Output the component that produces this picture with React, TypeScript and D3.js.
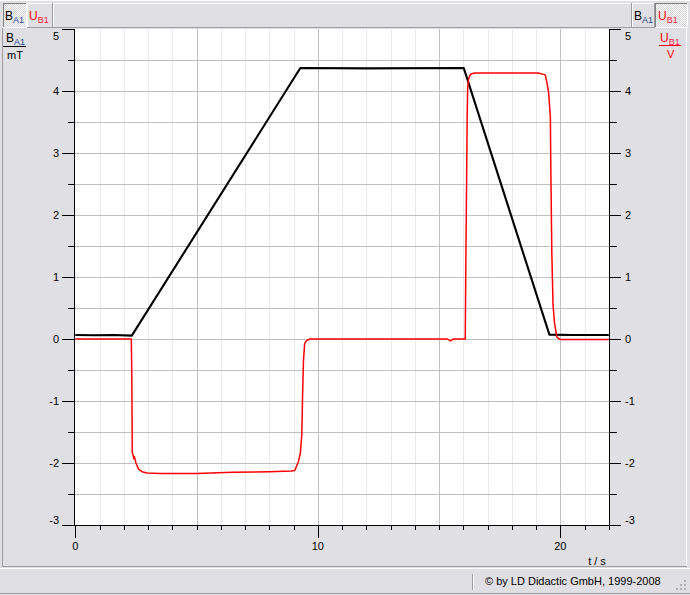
import React from 'react';
import * as d3 from 'd3';

// ---- data ----
// Magnetic flux density B_A1 (mT) vs time t (s)
const bTimes = [0, 0.8, 1.6, 2.33, 9.28, 12.0, 16.02, 19.55, 20.5, 22];
const bValues = [0.065, 0.06, 0.065, 0.055, 4.37, 4.365, 4.37, 0.07, 0.065, 0.065];

// Induced voltage U_B1 (V) vs time t (s)
const uTimes = [
  0, 2.31, 2.33, 2.35, 2.38, 2.41, 2.44, 2.5, 2.61, 2.75, 2.96, 3.5, 5.0, 6.5, 8.0, 8.9,
  9.05, 9.2, 9.28, 9.34, 9.37, 9.41, 9.46, 9.55, 9.69, 15.35, 15.46, 15.6, 16.08, 16.1,
  16.16, 16.18, 16.22, 16.3, 16.45, 19.09, 19.38, 19.45, 19.52, 19.59, 19.61, 19.65,
  19.7, 19.76, 19.86, 20.0, 22,
];
const uValues = [
  0.0, 0.0, -0.6, -1.84, -1.86, -1.93, -1.9, -2.0, -2.1, -2.14, -2.16, -2.17, -2.17, -2.15,
  -2.14, -2.13, -2.12, -1.98, -1.84, -1.55, -0.95, -0.34, -0.07, -0.02, 0.0, 0.0, -0.03,
  0.0, 0.0, 1.0, 3.6, 4.05, 4.2, 4.27, 4.29, 4.29, 4.26, 4.13, 3.97, 3.58, 2.73, 1.4,
  0.55, 0.26, 0.03, -0.01, -0.01,
];

const xLabels = [0, 10, 20];
const yLabels = [-3, -2, -1, 0, 1, 2, 3, 4, 5];

const W = 690;
const H = 595;
const BG = '#e0dfe3';
const FONT = '"Liberation Sans", Arial, sans-serif';

const x = d3.scaleLinear().domain([0, 22]).range([75.3, 608.8]);
const y = d3.scaleLinear().domain([-3, 5]).range([525, 29]);
const px = (v: number) => Math.round(v) + 0.5;

const line = d3
  .line<[number, number]>()
  .x((d) => x(d[0]))
  .y((d) => y(d[1]));

const bData: [number, number][] = bTimes.map((t, i) => [t, bValues[i]]);
const uData: [number, number][] = uTimes.map((t, i) => [t, uValues[i]]);

function Sunken({ x0, y0, w, h }: { x0: number; y0: number; w: number; h: number }) {
  return (
    <g>
      <rect x={x0} y={y0} width={w} height={h} fill="url(#checker)" />
      <line x1={x0 + 0.5} y1={y0} x2={x0 + 0.5} y2={y0 + h} stroke="#808080" />
      <line x1={x0} y1={y0 + 0.5} x2={x0 + w} y2={y0 + 0.5} stroke="#808080" />
      <line x1={x0 + w - 0.5} y1={y0} x2={x0 + w - 0.5} y2={y0 + h} stroke="#ffffff" />
      <line x1={x0} y1={y0 + h - 0.5} x2={x0 + w} y2={y0 + h - 0.5} stroke="#ffffff" />
    </g>
  );
}

function Raised({ x0, y0, w, h }: { x0: number; y0: number; w: number; h: number }) {
  return (
    <g>
      <rect x={x0} y={y0} width={w} height={h} fill={BG} />
      <line x1={x0 + 0.5} y1={y0} x2={x0 + 0.5} y2={y0 + h} stroke="#ffffff" />
      <line x1={x0} y1={y0 + 0.5} x2={x0 + w} y2={y0 + 0.5} stroke="#ffffff" />
      <line x1={x0 + w - 0.5} y1={y0} x2={x0 + w - 0.5} y2={y0 + h} stroke="#9d9da1" />
      <line x1={x0} y1={y0 + h - 0.5} x2={x0 + w} y2={y0 + h - 0.5} stroke="#9d9da1" />
    </g>
  );
}

function Label({
  x0,
  y0,
  main,
  sub,
  color,
  subColor,
}: {
  x0: number;
  y0: number;
  main: string;
  sub: string;
  color: string;
  subColor: string;
}) {
  return (
    <text x={x0} y={y0} fontFamily={FONT} fontSize={12} fill={color}>
      {main}
      <tspan fontSize={9} dy={3} fill={subColor}>
        {sub}
      </tspan>
    </text>
  );
}

export default function App() {
  const vGrid = d3.range(1, 22);
  const hGrid = d3.range(-2.5, 4.51, 0.5);
  const yTicks = d3.range(-3, 5.01, 0.5);
  const xTicks = d3.range(0, 23, 1);
  const grip: [number, number][] = [
    [684, 580],
    [680, 584],
    [684, 584],
    [676, 588],
    [680, 588],
    [684, 588],
  ];

  return (
    <svg
      width={W}
      height={H}
      viewBox={`0 0 ${W} ${H}`}
      style={{ position: 'absolute', left: 0, top: 0, display: 'block' }}
    >
      <defs>
        <pattern id="checker" width={2} height={2} patternUnits="userSpaceOnUse">
          <rect width={2} height={2} fill="#ffffff" />
          <rect width={1} height={1} fill="#d4d3d8" />
          <rect x={1} y={1} width={1} height={1} fill="#d4d3d8" />
        </pattern>
        <clipPath id="plotClip">
          <rect x={75} y={29} width={534} height={496} />
        </clipPath>
      </defs>

      <rect width={W} height={H} fill={BG} />

      {/* toolbar */}
      <line x1={0} y1={0.5} x2={W} y2={0.5} stroke="#ffffff" />
      <Sunken x0={3} y0={3} w={24} h={25} />
      <Label x0={5} y0={20} main="B" sub="A1" color="#000000" subColor="#1f3f8f" />
      <Raised x0={27} y0={3} w={26} h={25} />
      <Label x0={29} y0={20} main="U" sub="B1" color="#ff0000" subColor="#ff2040" />
      <Raised x0={53} y0={3} w={579} h={25} />
      <Raised x0={632} y0={3} w={23} h={25} />
      <Label x0={634} y0={20} main="B" sub="A1" color="#000000" subColor="#1f3f8f" />
      <Sunken x0={655} y0={3} w={33} h={25} />
      <Label x0={658} y0={20} main="U" sub="B1" color="#ff0000" subColor="#ff2040" />

      {/* frame of the graph panel */}
      <line x1={2.5} y1={28} x2={2.5} y2={567} stroke="#9d9da1" />
      <line x1={686.5} y1={28} x2={686.5} y2={567} stroke="#ffffff" />
      <line x1={2} y1={566.5} x2={687} y2={566.5} stroke="#9d9da1" />
      <line x1={0} y1={568.5} x2={W} y2={568.5} stroke="#ffffff" />

      {/* plot background */}
      <rect x={75} y={29} width={534} height={496} fill="#ffffff" />

      {/* grid */}
      {vGrid.map((t) => (
        <line
          key={'vg' + t}
          x1={px(x(t))}
          x2={px(x(t))}
          y1={29}
          y2={525}
          stroke={t % 5 === 0 ? '#c0c0c0' : '#ebebeb'}
        />
      ))}
      {hGrid.map((v) => (
        <line key={'hg' + v} x1={75} x2={609} y1={px(y(v))} y2={px(y(v))} stroke="#c0c0c0" />
      ))}

      {/* series */}
      <g clipPath="url(#plotClip)">
        <path d={line(bData) || ''} fill="none" stroke="#000000" strokeWidth={2.1} strokeLinejoin="round" />
        <path d={line(uData) || ''} fill="none" stroke="#ff0000" strokeWidth={1.5} strokeLinejoin="round" />
      </g>

      {/* axes */}
      <line x1={74.5} x2={74.5} y1={29} y2={526} stroke="#000000" />
      <line x1={609.5} x2={609.5} y1={29} y2={526} stroke="#000000" />
      <line x1={74} x2={610} y1={525.5} y2={525.5} stroke="#000000" />
      {yTicks.map((v) => {
        const major = Number.isInteger(v);
        const yy = px(y(v));
        return (
          <g key={'yt' + v}>
            <line x1={major ? 62 : 68} x2={74} y1={yy} y2={yy} stroke="#000000" />
            <line x1={610} x2={major ? 621 : 617} y1={yy} y2={yy} stroke="#000000" />
          </g>
        );
      })}
      {xTicks.map((t) => {
        const major = t % 10 === 0;
        const xx = px(x(t));
        return <line key={'xt' + t} x1={xx} x2={xx} y1={525} y2={major ? 538 : 530} stroke="#000000" />;
      })}

      {yLabels.map((v) => {
        const yy = Math.min(520, Math.max(36, y(v)));
        return (
          <g key={'yl' + v}>
            <text x={59} y={yy} dy="0.36em" textAnchor="end" fontFamily={FONT} fontSize={11} fill="#000000">
              {String(v)}
            </text>
            <text x={625} y={yy} dy="0.36em" textAnchor="start" fontFamily={FONT} fontSize={11} fill="#000000">
              {String(v)}
            </text>
          </g>
        );
      })}
      {xLabels.map((t) => (
        <text key={'xl' + t} x={x(t)} y={549.5} textAnchor="middle" fontFamily={FONT} fontSize={11} fill="#000000">
          {String(t)}
        </text>
      ))}
      <text x={597} y={565} textAnchor="middle" fontFamily={FONT} fontSize={11} fill="#000000">
        t / s
      </text>

      {/* axis titles */}
      <Label x0={6} y0={42} main="B" sub="A1" color="#000000" subColor="#1f3f8f" />
      <line x1={3} x2={26} y1={46.5} y2={46.5} stroke="#000000" />
      <text x={7} y={59} fontFamily={FONT} fontSize={11} fill="#000000">
        mT
      </text>
      <Label x0={660} y0={42} main="U" sub="B1" color="#ff0000" subColor="#ff2040" />
      <line x1={659} x2={681} y1={45.5} y2={45.5} stroke="#ff0000" />
      <text x={667} y={58} fontFamily={FONT} fontSize={11} fill="#ff0000">
        V
      </text>

      {/* status bar */}
      <line x1={472.5} x2={472.5} y1={574} y2={590} stroke="#9d9da1" />
      <line x1={473.5} x2={473.5} y1={574} y2={590} stroke="#ffffff" />
      <text x={485} y={585} fontFamily={FONT} fontSize={11} fill="#000000">
        © by LD Didactic GmbH, 1999-2008
      </text>
      {grip.map(([gx, gy], i) => (
        <rect key={'grip' + i} x={gx} y={gy} width={2} height={2} fill="#b0b0b4" />
      ))}
      <line x1={0} y1={593.5} x2={W} y2={593.5} stroke="#9d9da1" />
    </svg>
  );
}
